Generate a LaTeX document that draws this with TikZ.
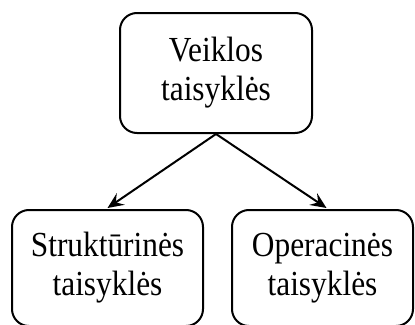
\documentclass[tikz,border=0pt]{standalone}
\usepackage{fontspec}
\setmainfont{Liberation Serif}
\usetikzlibrary{arrows.meta}
% slightly tall lettering
\newcommand{\tallline}[1]{\scalebox{0.98}[1.1]{#1}}
\begin{document}
\begin{tikzpicture}[x=1pt,y=-1pt,
  rulebox/.style={draw, line width=2pt, rounded corners=17pt,
    align=center, inner sep=0pt, font=\fontsize{32}{39}\selectfont},
  link/.style={line width=2pt, -{Stealth[length=16pt,width=14pt,inset=6pt]}}]
  \useasboundingbox (0,0) rectangle (415,324);
  \node[rulebox, minimum width=192pt, minimum height=120pt] (top) at (216,73)
    {\tallline{Veiklos}\\\tallline{taisyklės}};
  \node[rulebox, minimum width=191pt, minimum height=116pt] (struct) at (107.5,268)
    {\tallline{Struktūrinės}\\\tallline{taisyklės}};
  \node[rulebox, minimum width=181pt, minimum height=116pt] (oper) at (322.5,268)
    {\tallline{Operacinės}\\\tallline{taisyklės}};
  \draw[link] (top.south) -- ([yshift=1pt]struct.north);
  \draw[link] (top.south) -- ([xshift=4pt,yshift=1pt]oper.north);
\end{tikzpicture}
\end{document}
